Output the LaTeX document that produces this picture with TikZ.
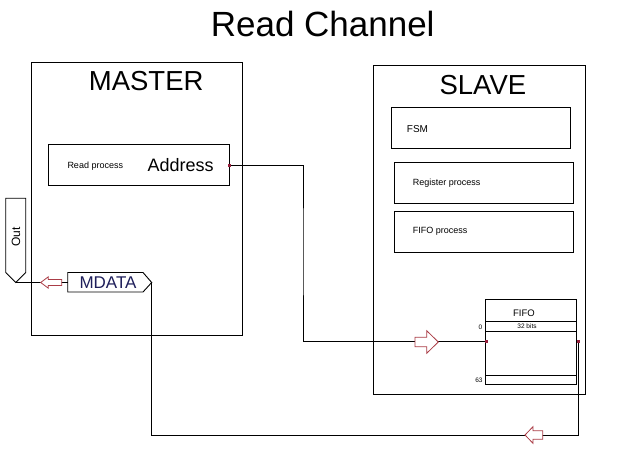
\documentclass[tikz,border=0pt]{standalone}
\usepackage{fontspec}
\setmainfont{Liberation Sans}
\definecolor{arrred}{RGB}{170,60,70}
\definecolor{dotred}{RGB}{150,30,60}
\definecolor{tagnavy}{RGB}{30,30,90}
\newcommand\hollowarr[7]{\draw[harr] (#1,#2) -- ++({-(#3)*(#4)},{-(#5)}) -- ++(0,{(#5)-(#7)}) -- ++({-(#3)*(#6)},0) -- ++(0,{2*(#7)}) -- ++({(#3)*(#6)},0) -- ++(0,{(#5)-(#7)}) -- cycle;}
\begin{document}
\begin{tikzpicture}[x=1pt,y=-1pt,
  box/.style={draw,line width=0.9pt,inner sep=0pt,rectangle},
  conn/.style={line width=0.9pt,draw=black},
  harr/.style={draw=arrred,line width=0.8pt,fill=white},
  dot/.style={fill=dotred,inner sep=0pt,minimum size=3pt},
  lbl/.style={inner sep=0pt,font=\fontsize{9}{10}\selectfont},
  bigtxt/.style={inner sep=0pt,font=\fontsize{27.5}{30}\selectfont},
  tiny/.style={inner sep=0pt,font=\fontsize{6.5}{7}\selectfont}]
\useasboundingbox (0,0) rectangle (622,454);

% title
\node[inner sep=0pt,font=\fontsize{35}{38}\selectfont] (title) at (322.7,23.7) {Read Channel};

% master
\node[box,minimum width=211pt,minimum height=272.7pt] (master) at (137.4,198.65) {};
\node[bigtxt] (mastertitle) at (146.2,81) {MASTER};
\node[box,minimum width=181.2pt,minimum height=41pt] (addr) at (138.9,165.2) {};
\node[lbl,anchor=west] (readproc) at (67.3,165.7) {Read process};
\node[inner sep=0pt,anchor=west,font=\fontsize{18}{20}\selectfont] (addrtxt) at (147.3,164.7) {Address};

% slave
\node[box,minimum width=212pt,minimum height=328.3pt] (slave) at (479.3,229.85) {};
\node[bigtxt] (slavetitle) at (482.9,85) {SLAVE};
\node[box,minimum width=179pt,minimum height=41pt] (fsm) at (481.2,127.8) {};
\node[inner sep=0pt,anchor=west,font=\fontsize{10}{11}\selectfont] (fsmtxt) at (406.7,129.3) {FSM};
\node[box,minimum width=179pt,minimum height=41pt] (reg) at (483.8,182.8) {};
\node[lbl,anchor=west] (regtxt) at (412.7,182.7) {Register process};
\node[box,minimum width=179pt,minimum height=41pt] (fifoproc) at (483.8,232.2) {};
\node[lbl,anchor=west] (fifoproctxt) at (412.7,231.7) {FIFO process};

% fifo block
\node[box,minimum width=91.4pt,minimum height=85pt] (fifo) at (531,341.8) {};
\draw[line width=0.9pt] (485.3,321.7) -- (576.7,321.7);
\draw[line width=0.9pt] (485.3,331.3) -- (576.7,331.3);
\draw[line width=0.9pt] (485.3,375.3) -- (576.7,375.3);
\node[inner sep=0pt,font=\fontsize{9.5}{10}\selectfont] (fifotitle) at (524,313.5) {FIFO};
\node[tiny] (bits) at (527,326.3) {32 bits};
\node[tiny,anchor=east] (idx0) at (482.5,327.5) {0};
\node[tiny,anchor=east] (idx63) at (482.8,380.5) {63};

% Out tag
\draw[line width=0.9pt] (5.7,198.3) -- (25.7,198.3) -- (25.7,272.5) -- (15.7,282.5) -- (5.7,272.5) -- cycle;
\coordinate (outtip) at (15.7,282.5);
\node[rotate=90,inner sep=0pt,font=\fontsize{12}{14}\selectfont] (out) at (16,237) {Out};

% MDATA tag
\draw[line width=0.9pt] (67.7,272.5) -- (143,272.5) -- (151.7,282.5) -- (143,292) -- (67.7,292) -- cycle;
\coordinate (mdtip) at (151.7,282.5);
\coordinate (mdleft) at (67.7,282.5);
\node[inner sep=0pt,text=tagnavy,font=\fontsize{17}{19}\selectfont] (mdata) at (108,282.5) {MDATA};

% connectors
\coordinate (bend1) at (303,250);
\draw[conn] (addr.east) -| (bend1) |- (fifo.west);
\coordinate (bend2) at (151.7,435);
\draw[conn] ([xshift=1.3pt]fifo.east) |- (bend2) -- (mdtip);
\draw[conn] (mdleft) -- (outtip);

% hollow arrows
\hollowarr{438.3}{342}{1}{11.6}{11.3}{11.7}{4.7}
\hollowarr{525}{435}{-1}{8}{8.3}{9.7}{4.3}
\hollowarr{40.7}{282.5}{-1}{7.6}{5.7}{13.4}{3}

% port dots
\node[dot] (d1) at (addr.east) {};
\node[dot] (d2) at ([xshift=1.5pt]fifo.west) {};
\node[dot] (d3) at ([xshift=1.3pt]fifo.east) {};
\end{tikzpicture}
\end{document}
